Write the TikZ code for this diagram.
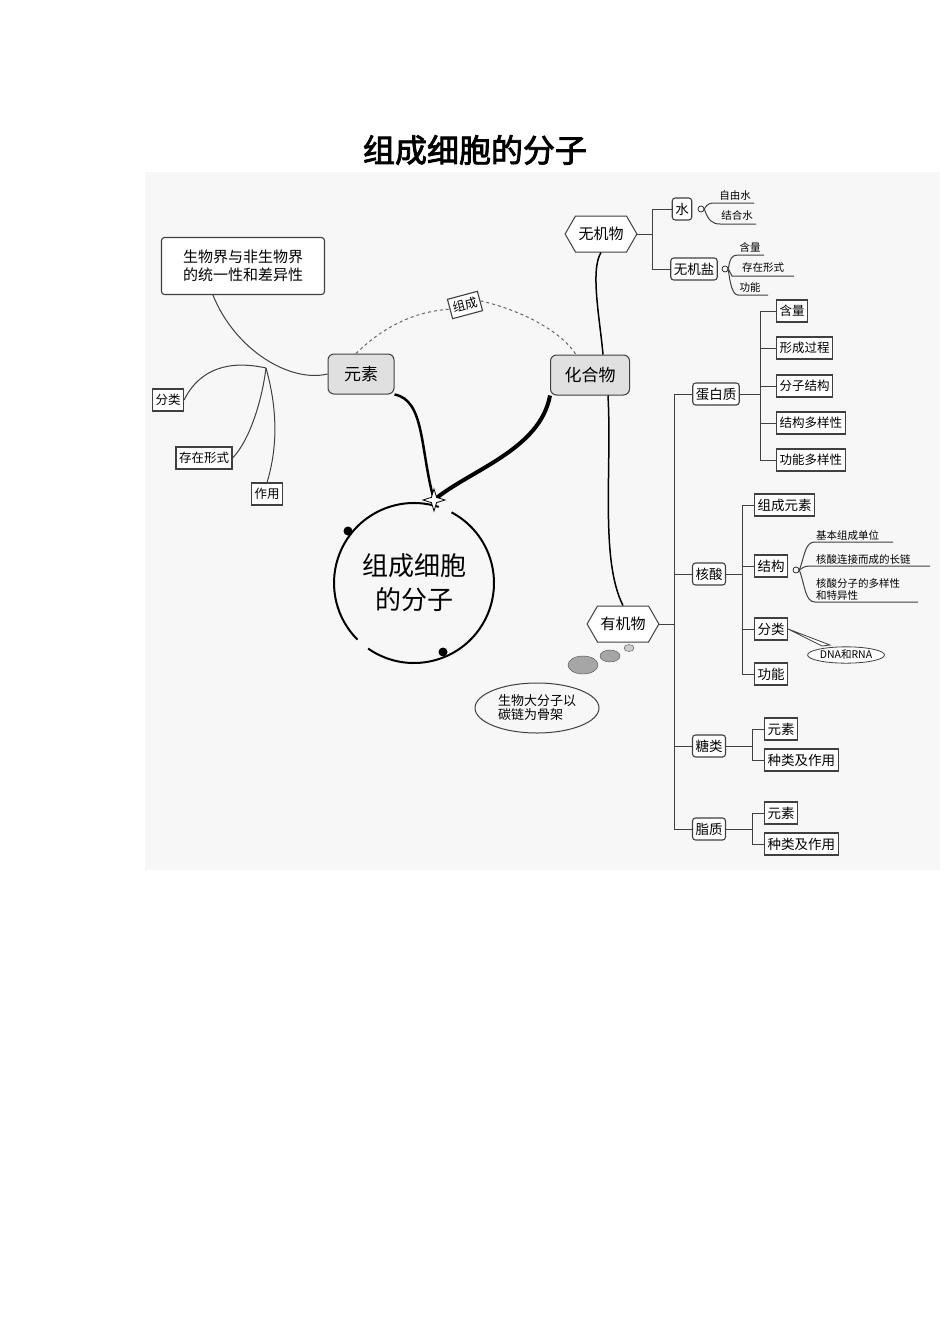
\documentclass[tikz,border=0pt]{standalone}
\usepackage{fontspec}
\setmainfont{Noto Sans CJK SC}[AutoFakeBold=2.5]
\usetikzlibrary{shapes.symbols,shapes.geometric}
\begin{document}
\begin{tikzpicture}[x=1pt,y=-1pt,
  box/.style={draw=black!75,line width=1.1pt,fill=white,inner sep=3pt,minimum height=22pt,font=\fontsize{12.5}{13}\selectfont},
  rbox/.style={box,rounded corners=3pt,font=\fontsize{13.5}{14}\selectfont},
  gbox/.style={draw=black!75,line width=1pt,fill=black!12,rounded corners=6pt,minimum height=40pt,inner sep=5pt,font=\fontsize{17}{18}\selectfont},
  hex/.style={draw=black!75,line width=1pt,fill=white,signal,signal to=west and east,signal pointer angle=120,inner sep=3pt,minimum height=36pt,font=\fontsize{15}{16}\selectfont},
  ul/.style={font=\fontsize{10.5}{12}\selectfont,inner sep=1pt},
  ln/.style={draw=black!75,line width=1pt},
  tk/.style={line width=1.5pt}]
\useasboundingbox (0,0) rectangle (950,1344);
\fill[black!3] (145,172) rectangle (940,870);
\node[font=\bfseries\fontsize{32}{34}\selectfont] (title) at (475,150) {组成细胞的分子};

% left
\node[rbox,align=left,minimum width=163pt,minimum height=57pt,font=\fontsize{15}{18}\selectfont] (bio) at (243,266) {生物界与非生物界\\的统一性和差异性};
\node[gbox,minimum width=66pt] (ys) at (361,374) {元素};
\node[gbox,minimum width=79pt] (hh) at (590,375) {化合物};
\node[box,rotate=15,minimum height=20pt] (zc) at (465,305) {组成};
\node[box] (fl) at (168,400) {分类};
\node[box] (cz) at (204,458) {存在形式};
\node[box] (zy) at (267,494) {作用};
\coordinate (hub) at (266,368);
\draw[ln] (bio.south west)++(52,0) .. controls (235,350) and (290,383) .. (ys.west);
\draw[ln] (fl.east) .. controls (200,368) and (230,360) .. (hub);
\draw[ln] (cz.east) .. controls (250,440) and (262,400) .. (hub);
\draw[ln] (zy.north) .. controls (280,440) and (275,400) .. (hub);
\draw[dashed,black!60,line width=1pt] ([xshift=-5pt]ys.north) .. controls (380,330) and (410,312) .. (zc.west);
\draw[dashed,black!60,line width=1pt] (zc.east) .. controls (520,310) and (560,330) .. ([xshift=26pt]hh.north west);

% circle
\node[circle,minimum size=160pt,align=center,font=\fontsize{26}{34}\selectfont] (core) at (414,583) {组成细胞\\的分子};
\draw[line width=2pt] (core.center) ++(125:80) arc (125:-62:80);
\draw[line width=2pt] (core.center) ++(-72:80) arc (-72:-225:80);
\fill (348,531) circle (4.5);
\fill (443,652) circle (4.5);
\draw[line width=2.5pt] (ys.south east) .. controls (425,400) and (420,450) .. (434,500);
\draw[line width=4pt] (hh.south west) .. controls (540,450) and (470,470) .. (434,500);
\node[star,star points=4,star point ratio=3,draw,fill=white,line width=0.8pt,minimum size=22pt,inner sep=0] (st) at (434,500) {};

% inorganic
\node[hex] (wj) at (601,234) {无机物};
\draw[tk] (hh.north) ++(13,0) .. controls (600,320) and (590,270) .. (wj.south);
\node[rbox] (sh) at (682,209) {水};
\node[rbox] (wjy) at (694,269) {无机盐};
\draw[ln] (wj.east) -- (652,234) |- (sh.west);
\draw[ln] (652,234) |- (wjy.west);
\node[draw,circle,inner sep=0,minimum size=6pt,line width=0.6pt] (c1) at (701,209) {};
\node[draw,circle,inner sep=0,minimum size=6pt,line width=0.6pt] (c2) at (725,269) {};
\node[ul] (zys) at (735,196) {自由水};
\node[ul] (jhs) at (737,215) {结合水};
\node[ul] (hl1) at (750,247) {含量};
\node[ul] (cz1) at (763,268) {存在形式};
\node[ul] (gn1) at (750,288) {功能};
\draw[ln] (c1.east) .. controls (708,203) and (710,203) .. (716,203) -- (754,203);
\draw[ln] (c1.east) .. controls (708,220) and (712,224) .. (720,224) -- (756,224);
\draw[ln] (c2.east) .. controls (730,258) and (732,255) .. (738,255) -- (764,255);
\draw[ln] (c2.east) -- (732,276) -- (794,276);
\draw[ln] (c2.east) .. controls (730,285) and (733,295) .. (738,295) -- (768,295);

% organic
\node[hex] (yj) at (623,624) {有机物};
\draw[tk] (hh.south) ++(18,0) .. controls (612,470) and (600,560) .. (yj.north);
\node[rbox] (dbz) at (716,394) {蛋白质};
\node[rbox] (hs) at (709,574) {核酸};
\node[rbox] (tl) at (709,746) {糖类};
\node[rbox] (zz) at (709,829) {脂质};
\draw[ln] (yj.east) -- (674,624);
\draw[ln] (dbz.west) -| (674,829) -- (zz.west);
\draw[ln] (674,574) -- (hs.west);
\draw[ln] (674,746) -- (tl.west);

\foreach \n/\t/\y in {p1/含量/311,p2/形成过程/348,p3/分子结构/386,p4/结构多样性/423,p5/功能多样性/460}{
  \node[box,anchor=west] (\n) at (776,\y) {\t};
  \draw[ln] (760,\y) -- (\n.west);}
\draw[ln] (dbz.east) -- (760,394);
\draw[ln] (760,311) -- (760,460);

\node[box,anchor=west,font=\fontsize{13.5}{14}\selectfont] (h1) at (754,505) {组成元素};
\node[box,anchor=west,font=\fontsize{13.5}{14}\selectfont] (h2) at (754,566) {结构};
\node[box,anchor=west,font=\fontsize{13.5}{14}\selectfont] (h3) at (754,629) {分类};
\node[box,anchor=west,font=\fontsize{13.5}{14}\selectfont] (h4) at (754,674) {功能};
\draw[ln] (hs.east) -- (742,574);
\draw[ln] (742,505) -- (742,674);
\foreach \n in {h1,h2,h3,h4}{\draw[ln] (742,0 |- \n.west) -- (\n.west);}
\node[draw,circle,inner sep=0,minimum size=6pt,line width=0.6pt] (c3) at (796,570) {};
\node[ul,anchor=south west] (k1) at (815,542) {基本组成单位};
\node[ul,anchor=south west] (k2) at (815,566) {核酸连接而成的长链};
\node[ul,anchor=south west,align=left] (k3) at (815,602) {核酸分子的多样性\\和特异性};
\draw[ln] (c3.east) .. controls (805,555) and (805,542) .. (815,542) -- (893,542);
\draw[ln] (c3.east) .. controls (805,566) .. (815,566) -- (930,566);
\draw[ln] (c3.east) .. controls (805,585) and (805,602) .. (815,602) -- (918,602);
\node[ellipse,draw=black!75,line width=0.8pt,fill=white,inner sep=1pt,font=\fontsize{10.5}{12}\selectfont] (dna) at (846,655) {DNA和RNA};
\draw[black!75,line width=0.8pt,fill=white] (h3.east) -- (822,646) -- (830,645) -- cycle;

\node[box,anchor=west,font=\fontsize{13.5}{14}\selectfont] (t1) at (764,729) {元素};
\node[box,anchor=west,font=\fontsize{13.5}{14}\selectfont] (t2) at (764,760) {种类及作用};
\draw[ln] (tl.east) -- (752,746);
\draw[ln] (t1.west) -| (752,760) -- (t2.west);
\node[box,anchor=west,font=\fontsize{13.5}{14}\selectfont] (z1) at (764,813) {元素};
\node[box,anchor=west,font=\fontsize{13.5}{14}\selectfont] (z2) at (764,844) {种类及作用};
\draw[ln] (zz.east) -- (752,829);
\draw[ln] (z1.west) -| (752,844) -- (z2.west);

% bubbles
\node[ellipse,draw=black!70,fill=black!35,minimum width=30pt,minimum height=18pt] (b1) at (583,665) {};
\node[ellipse,draw=black!70,fill=black!35,minimum width=20pt,minimum height=12pt] (b2) at (610,656) {};
\node[ellipse,draw=black!70,fill=black!20,minimum width=10pt,minimum height=7pt,inner sep=0] (b3) at (629,648) {};
\node[ellipse,draw=black!75,line width=1pt,minimum width=124pt,minimum height=50pt,align=left,inner sep=1pt,font=\fontsize{13}{14}\selectfont] (th) at (537,708) {生物大分子以\\碳链为骨架};
\end{tikzpicture}
\end{document}
